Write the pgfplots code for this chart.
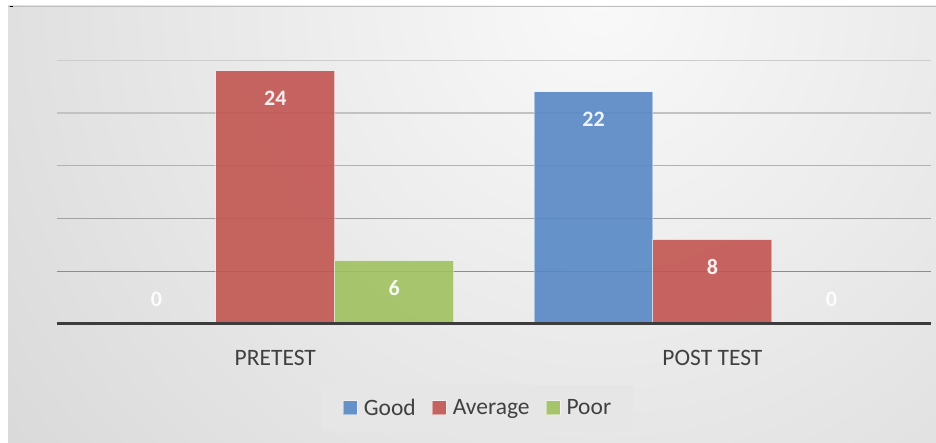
\documentclass[border=0pt]{standalone}
\usepackage{pgfplots}
\pgfplotsset{compat=1.18}
\usepackage{fontspec}
\setmainfont{Carlito}
\definecolor{cgood}{HTML}{5788C5}
\definecolor{cavg}{HTML}{C25551}
\definecolor{cpoor}{HTML}{9FC15F}
\definecolor{bgin}{HTML}{F9F9F9}
\definecolor{bgout}{HTML}{C2C2C2}
\definecolor{textc}{HTML}{404040}
\definecolor{basec}{HTML}{3C3C3C}
\definecolor{legbg}{HTML}{E6E6E6}
\begin{document}
\begin{tikzpicture}[x=1pt,y=1pt]
\path[use as bounding box] (0,0) rectangle (936,443);
\fill[white] (0,0) rectangle (936,443);
\begin{scope}
\clip (8,0) rectangle (936,437);
\shade[inner color=bgin, outer color=bgout] (600,443) circle (1300);
\end{scope}
\draw[color=gray!50, line width=1.5pt] (8,436.5) -- (936,436.5);
\fill[black] (10,435.5) rectangle (13,436.5);
\fill[legbg] (322,12) rectangle (633,58);
\begin{axis}[
  at={(56.7pt,119pt)}, anchor=south west,
  scale only axis, width=874.3pt, height=316.5pt,
  xmin=-0.5, xmax=1.5, ymin=0, ymax=30,
  xtick={0,1}, xticklabels={PRETEST, POST TEST},
  ytick=\empty,
  axis line style={draw=none},
  major tick style={draw=none},
  xticklabel style={font=\fontsize{23.5}{28}\selectfont, text=textc, anchor=center, yshift=-30pt},
  clip=false,
  /pgf/number format/assume math mode=true,
  ybar, bar width=0.272,
  nodes near coords,
  visualization depends on={y \as \rawy},
  every node near coord/.append style={font=\bfseries\fontsize{22}{22}\selectfont, text=white, anchor=center, yshift={ifthenelse(\rawy==0,25,-27)}},
  legend columns=3,
  legend style={at={(0.4819,-0.2654)}, anchor=center, fill=none, draw=none,
    font=\fontsize{23.5}{28}\selectfont, text=textc, inner xsep=10pt, inner ysep=5pt,
    /tikz/every odd column/.append style={column sep=4pt},
    /tikz/every even column/.append style={column sep=14pt}},
  legend image code/.code={\fill[#1] (0pt,-7pt) rectangle (14pt,7pt);},
]
\draw[color=black!45, line width=1.3pt] (axis cs:-0.5,5) -- (axis cs:1.5,5);
\draw[color=black!37, line width=1.3pt] (axis cs:-0.5,10) -- (axis cs:1.5,10);
\draw[color=black!30, line width=1.3pt] (axis cs:-0.5,15) -- (axis cs:1.5,15);
\draw[color=black!24, line width=1.3pt] (axis cs:-0.5,20) -- (axis cs:1.5,20);
\draw[color=black!20, line width=1.3pt] (axis cs:-0.5,25) -- (axis cs:1.5,25);
\addplot[bar shift=-0.272, fill=cgood, fill opacity=0.9, draw=white, draw opacity=0.45, line width=1pt] coordinates {(0,0) (1,22)};
\addplot[bar shift=0, fill=cavg, fill opacity=0.9, draw=white, draw opacity=0.45, line width=1pt] coordinates {(0,24) (1,8)};
\addplot[bar shift=0.272, fill=cpoor, fill opacity=0.9, draw=white, draw opacity=0.45, line width=1pt] coordinates {(0,6) (1,0)};
\legend{Good, Average, Poor}
\draw[line width=3pt, color=basec] (axis cs:-0.5,0) -- (axis cs:1.5,0);
\end{axis}
\end{tikzpicture}
\end{document}
